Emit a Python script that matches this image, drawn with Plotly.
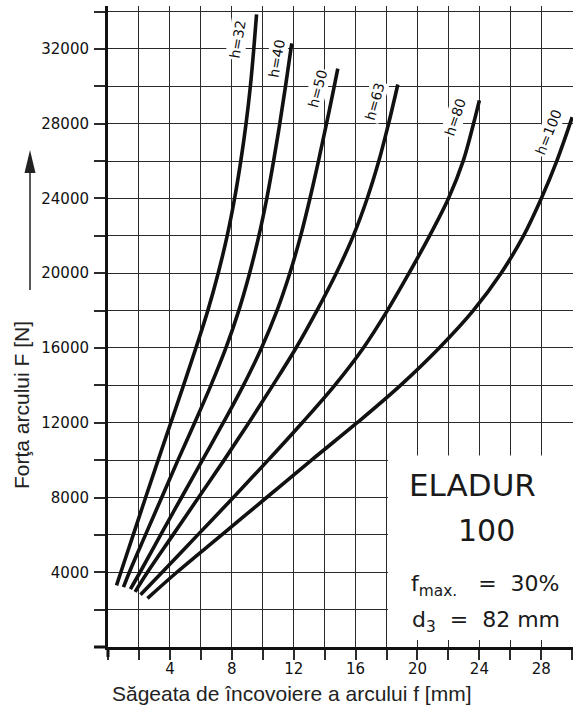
import plotly.graph_objects as go

# ---- data ----
x_h32 = [0.55, 0.83, 1.63, 2.43, 3.24, 4.06, 4.88, 5.68, 6.45, 7.12, 7.70, 8.18, 8.58, 8.92, 9.2, 9.42, 9.6]
F_h32 = [3300, 4000, 6000, 8000, 10000, 12000, 14000, 16000, 18000, 20000, 22000, 24000, 26000, 28000, 30000, 32000, 33850]

x_h40 = [1.0, 1.38, 2.42, 3.47, 4.52, 5.6, 6.65, 7.62, 8.45, 9.15, 9.75, 10.26, 10.7, 11.1, 11.47, 11.82, 11.88]
F_h40 = [3200, 4000, 6000, 8000, 10000, 12000, 14000, 16000, 18000, 20000, 22000, 24000, 26000, 28000, 30000, 32000, 32300]

x_h50 = [1.45, 2.07, 3.4, 4.75, 6.1, 7.45, 8.75, 9.92, 10.92, 11.75, 12.45, 13.05, 13.6, 14.12, 14.62, 14.85]
F_h50 = [3100, 4000, 6000, 8000, 10000, 12000, 14000, 16000, 18000, 20000, 22000, 24000, 26000, 28000, 30000, 30950]

x_h63 = [1.75, 2.55, 4.2, 5.85, 7.5, 9.1, 10.65, 12.15, 13.5, 14.75, 15.85, 16.75, 17.5, 18.13, 18.73]
F_h63 = [2950, 4000, 6000, 8000, 10000, 12000, 14000, 16000, 18000, 20000, 22000, 24000, 26000, 28000, 30100]

x_h80 = [2.1, 3.5, 5.8, 8.1, 10.35, 12.55, 14.65, 16.5, 18.05, 19.45, 20.78, 22.0, 22.95, 23.62, 24.0]
F_h80 = [2800, 4000, 6000, 8000, 10000, 12000, 14000, 16000, 18000, 20000, 22000, 24000, 26000, 28000, 29250]

x_h100 = [2.55, 4.45, 7.35, 10.25, 13.15, 16.1, 18.9, 21.4, 23.6, 25.4, 26.85, 28.0, 29.0, 30.0]
F_h100 = [2600, 4000, 6000, 8000, 10000, 12000, 14000, 16000, 18000, 20000, 22000, 24000, 26000, 28350]

curve_names = ["h=32", "h=40", "h=50", "h=63", "h=80", "h=100"]
curves_x = [x_h32, x_h40, x_h50, x_h63, x_h80, x_h100]
curves_F = [F_h32, F_h40, F_h50, F_h63, F_h80, F_h100]

# label anchor positions (data units) and text angles
label_x = [8.37, 10.9, 13.55, 17.23, 22.4, 28.48]
label_F = [32480, 31460, 29850, 29160, 28330, 27550]
label_angle = [-80, -80, -75, -74, -71, -68]

x_grid = list(range(0, 31, 2))
x_tickvals = [4, 8, 12, 16, 20, 24, 28]
x_ticktext = ["4", "8", "12", "16", "20", "24", "28"]
y_grid = list(range(0, 34001, 2000))
y_tickvals = [4000, 8000, 12000, 16000, 20000, 24000, 28000, 32000]
y_ticktext = ["4000", "8000", "12000", "16000", "20000", "24000", "28000", "32000"]

# ---- layout geometry ----
W, H = 574, 713
ML, MR, MT, MB = 108, 1, 6, 66
PW, PH = W - ML - MR, H - MT - MB


def px_x(p):
    return (p - ML) / PW


def px_y(p):
    return (H - MB - p) / PH


fig = go.Figure()
for xs, Fs, name in zip(curves_x, curves_F, curve_names):
    fig.add_trace(go.Scatter(x=xs, y=Fs, mode="lines", name=name,
                             line=dict(color="#111111", width=3.6, shape="spline", smoothing=1.0),
                             showlegend=False, hoverinfo="skip"))

grid_col = "#2b2b2b"
tick_font = dict(family="DejaVu Sans", size=15, color="#111111")

fig.update_layout(
    width=W, height=H,
    margin=dict(l=ML, r=MR, t=MT, b=MB, autoexpand=False),
    paper_bgcolor="white", plot_bgcolor="white",
    xaxis=dict(range=[0, 30.05], tickmode="array", tickvals=x_tickvals, ticktext=x_ticktext,
               ticks="outside", ticklen=10, tickwidth=1.5, tickcolor=grid_col,
               showgrid=True, gridcolor=grid_col, gridwidth=1.4,
               minor=dict(tickmode="array", tickvals=x_grid, ticks="outside", ticklen=10,
                          tickwidth=1.5, tickcolor=grid_col, showgrid=True,
                          gridcolor=grid_col, gridwidth=1.4),
               showline=True, linewidth=3, linecolor="#111111", zeroline=False,
               tickfont=tick_font, ticklabelstandoff=-4),
    yaxis=dict(range=[0, 34300], tickmode="array", tickvals=y_tickvals, ticktext=y_ticktext,
               ticks="outside", ticklen=11, tickwidth=1.5, tickcolor=grid_col,
               showgrid=True, gridcolor=grid_col, gridwidth=1.4,
               minor=dict(tickmode="array", tickvals=y_grid, ticks="outside", ticklen=11,
                          tickwidth=1.5, tickcolor=grid_col, showgrid=True,
                          gridcolor=grid_col, gridwidth=1.4),
               showline=True, linewidth=3, linecolor="#111111", zeroline=False,
               tickfont=tick_font, ticklabelstandoff=2),
)

# white box covering the grid behind the legend text
fig.add_shape(type="rect", xref="x", yref="y", x0=18.09, x1=30.3, y0=380, y1=10250,
              fillcolor="white", line=dict(width=0), layer="above")

# thick axis extensions past the origin corner
fig.add_shape(type="line", xref="paper", yref="paper",
              x0=px_x(ML), x1=px_x(ML), y0=px_y(H - MB), y1=px_y(H - MB + 10),
              line=dict(color="#111111", width=3))
fig.add_shape(type="line", xref="paper", yref="paper",
              x0=px_x(ML - 14), x1=px_x(ML), y0=0, y1=0,
              line=dict(color="#111111", width=3))

# curve labels
for name, lx, lF, ang in zip(curve_names, label_x, label_F, label_angle):
    fig.add_annotation(x=lx, y=lF, xref="x", yref="y", text=name, showarrow=False,
                       textangle=ang, bgcolor="white", borderpad=1,
                       font=dict(family="DejaVu Sans", size=14, color="#111111"))

box_font = dict(family="DejaVu Sans", size=31, color="#1a1a1a")
fig.add_annotation(x=23.56, y=8657, xref="x", yref="y", text="ELADUR", showarrow=False, font=box_font)
fig.add_annotation(x=24.47, y=6246, xref="x", yref="y", text="100", showarrow=False,
                   font=dict(family="DejaVu Sans", size=30, color="#1a1a1a"))
nb = "\u00a0"
fig.add_annotation(x=24.4, y=3300, xref="x", yref="y",
                   text="f<sub>max.</sub>" + nb * 3 + "=" + nb * 2 + "30%", showarrow=False,
                   font=dict(family="DejaVu Sans", size=22, color="#1a1a1a"))
fig.add_annotation(x=24.4, y=1350, xref="x", yref="y",
                   text="d<sub>3</sub>" + nb * 2 + "=" + nb * 2 + "82" + nb + "mm", showarrow=False,
                   font=dict(family="DejaVu Sans", size=22, color="#1a1a1a"))

# axis titles
title_font = dict(family="Liberation Sans", size=21, color="#222222")
fig.add_annotation(x=px_x(292), y=px_y(693), xref="paper", yref="paper",
                   xanchor="center", yanchor="middle",
                   text="Săgeata de încovoiere a arcului f [mm]", showarrow=False, font=title_font)
fig.add_annotation(x=px_x(22), y=px_y(405), xref="paper", yref="paper",
                   xanchor="center", yanchor="middle",
                   text="Forţa arcului F [N]", showarrow=False, textangle=-90, font=title_font)

# arrow next to y title
fig.add_shape(type="line", xref="paper", yref="paper",
              x0=px_x(30), x1=px_x(30), y0=px_y(290), y1=px_y(168),
              line=dict(color="#222222", width=1.5))
fig.add_shape(type="path", xref="paper", yref="paper",
              path="M {a},{b} L {c},{d} L {e},{d} Z".format(
                  a=px_x(30), b=px_y(150), c=px_x(24.5), d=px_y(173), e=px_x(35.5)),
              fillcolor="#222222", line=dict(width=0))

fig.write_html("out.html", config={"displayModeBar": False},
               post_script="document.body.style.margin='0';")
